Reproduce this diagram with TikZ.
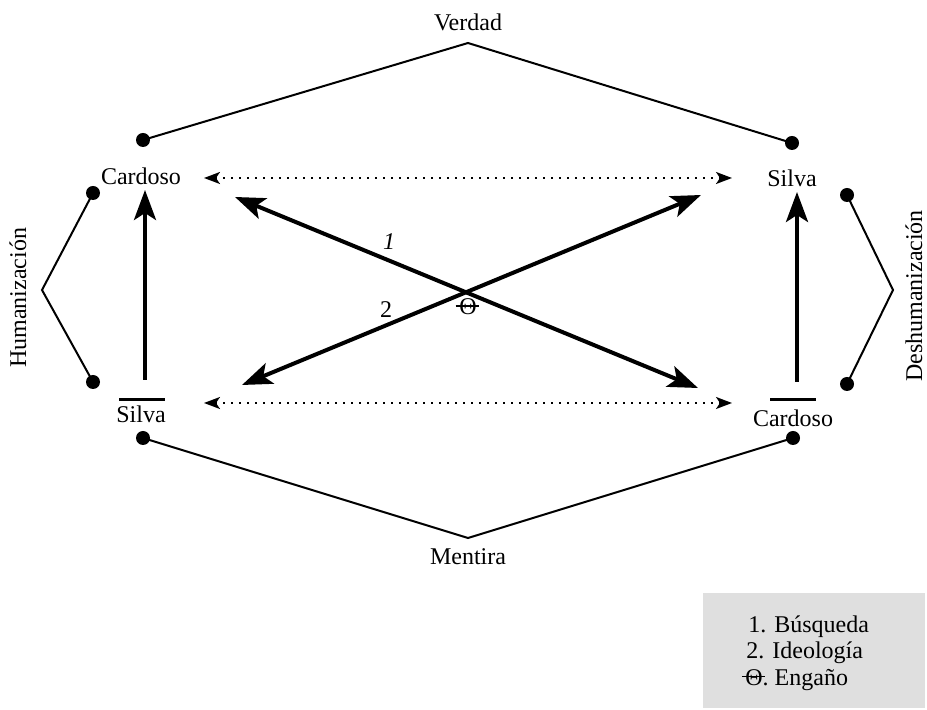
\documentclass[tikz,border=0pt]{standalone}
\usepackage{fontspec}
\setmainfont{Liberation Serif}
\usetikzlibrary{arrows.meta}
\newcommand\strTheta{\makebox[0pt][l]{\hspace{-1.8pt}\rule[0.34em]{11.8pt}{0.6pt}}Θ}
\begin{document}
\begin{tikzpicture}[x=0.5pt,y=-0.5pt,
  lbl/.style={inner sep=0pt,font=\fontsize{12}{14}\selectfont},
  thin/.style={line width=1pt},
  dotend/.style={circle,fill=black,inner sep=0pt,minimum size=7pt},
  bigarrow/.style={line width=2pt,-{Stealth[length=15pt,width=11pt,inset=3.5pt]}},
  bigboth/.style={line width=2pt,{Stealth[length=15pt,width=11pt,inset=3.5pt]}-{Stealth[length=15pt,width=11pt,inset=3.5pt]}},
  dotarrow/.style={line width=1pt,dash pattern=on 1pt off 3pt,{Stealth[length=8pt,width=6pt,inset=2pt]}-{Stealth[length=8pt,width=6pt,inset=2pt]}},
  bar/.style={line width=1.5pt}]
\useasboundingbox (0,0) rectangle (927,710);
% legend box
\fill[gray!25] (703,593) rectangle (925,708);
% texts
\node[lbl] (verdad) at (468,22) {Verdad};
\node[lbl] (mentira) at (468,557) {Mentira};
\node[lbl] (cardTL) at (141,176) {Cardoso};
\node[lbl] (silvaTR) at (792,178) {Silva};
\node[lbl] (silvaBL) at (141,414) {Silva};
\node[lbl] (cardBR) at (793,418) {Cardoso};
\node[lbl,rotate=90] (hum) at (18,298) {Humanización};
\node[lbl,rotate=90] (desh) at (914,296) {Deshumanización};
% dots
\node[dotend] (dTL) at (143,140) {};
\node[dotend] (dTR) at (792,143) {};
\node[dotend] (dBL) at (143,438) {};
\node[dotend] (dBR) at (793,438) {};
\node[dotend] (dL1) at (93,193) {};
\node[dotend] (dL2) at (93,382) {};
\node[dotend] (dR1) at (847,195) {};
\node[dotend] (dR2) at (847,384) {};
\coordinate (apexT) at (468,43);
\coordinate (apexB) at (468,538);
\coordinate (apexL) at (42,290);
\coordinate (apexR) at (893,290);
\draw[thin] (dTL.center) -- (apexT) -- (dTR.center);
\draw[thin] (dBL.center) -- (apexB) -- (dBR.center);
\draw[thin] (dL1.center) -- (apexL) -- (dL2.center);
\draw[thin] (dR1.center) -- (apexR) -- (dR2.center);
% bars over bottom names
\coordinate (bLa) at (119,400);
\coordinate (bLb) at (165,400);
\coordinate (bRa) at (770,400);
\coordinate (bRb) at (816,400);
\draw[bar] (bLa) -- (bLb);
\draw[bar] (bRa) -- (bRb);
% dotted arrows
\coordinate (dotTa) at (204,178);
\coordinate (dotTb) at (732,178);
\coordinate (dotBa) at (204,403);
\coordinate (dotBb) at (732,403);
\draw[dotarrow] (dotTa) -- (dotTb);
\draw[dotarrow] (dotBa) -- (dotBb);
% vertical arrows
\coordinate (vL0) at (145,380);
\coordinate (vL1) at (145,190);
\coordinate (vR0) at (797,382);
\coordinate (vR1) at (797,192);
\draw[bigarrow] (vL0) -- (vL1);
\draw[bigarrow] (vR0) -- (vR1);
% diagonals
\coordinate (g1a) at (235,197);
\coordinate (g1b) at (698,388);
\coordinate (g2a) at (242,385);
\coordinate (g2b) at (701,195);
\draw[bigboth] (g1a) -- (g1b);
\draw[bigboth] (g2a) -- (g2b);
\node[lbl,font=\fontsize{12}{14}\selectfont\itshape] (one) at (389,242) {1};
\node[lbl] (two) at (386,310) {2};
\node[lbl] (theta) at (468,307) {\strTheta};
% legend
\node[lbl,anchor=west] (leg1) at (748,627) {1. Búsqueda};
\node[lbl,anchor=west] (leg2) at (746,653) {2. Ideología};
\node[lbl,anchor=west] (leg3) at (745,680) {\strTheta. Engaño};
\end{tikzpicture}
\end{document}
